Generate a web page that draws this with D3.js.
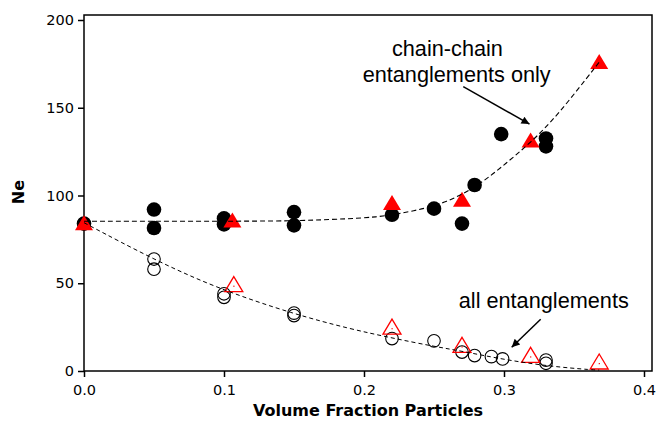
<!DOCTYPE html>
<html>
<head>
<meta charset="utf-8">
<script src="https://cdn.jsdelivr.net/npm/d3@7"></script>
<style>
  body { margin: 0; background: #fff; }
  svg { display: block; }
</style>
</head>
<body>
<div id="chart"></div>
<script>
// chain-chain entanglements only (filled symbols)
const chainCircles = [
  [0, 84], [0.05, 92], [0.05, 81.5], [0.1, 87], [0.1, 83.5], [0.15, 90.5], [0.15, 83],
  [0.22, 89], [0.25, 92.5], [0.27, 84], [0.279, 106], [0.298, 135], [0.33, 132.5], [0.33, 128]
];
const chainTriangles = [
  [0, 84.5], [0.106, 86], [0.22, 96], [0.27, 97.8], [0.319, 131.6], [0.368, 176.3]
];
const chainFit = [
  [0, 85.3], [0.1, 85.3], [0.15, 85.5], [0.176, 86.3], [0.2, 87.2], [0.214, 88.2], [0.235, 91],
  [0.259, 95.8], [0.283, 106.3], [0.302, 118.7], [0.319, 130.1], [0.338, 145.3], [0.368, 176]
];

// all entanglements (open symbols)
const allCircles = [
  [0, 84], [0.05, 63.8], [0.05, 58], [0.1, 44], [0.1, 42], [0.15, 33], [0.15, 31.6],
  [0.22, 18.5], [0.25, 17.2], [0.27, 10.8], [0.279, 8.8], [0.291, 8.2], [0.299, 6.9],
  [0.33, 6.2], [0.33, 4.4]
];
const allTriangles = [
  [0.107, 49.5], [0.22, 25.3], [0.27, 14.9], [0.319, 9.2], [0.368, 5.4]
];
const allFit = [
  [0, 84.5], [0.05, 63.4], [0.096, 46.8], [0.15, 32.4], [0.19, 24], [0.22, 18.8],
  [0.25, 14], [0.27, 11.3], [0.3, 6.5], [0.333, 2.6], [0.364, 0.6], [0.368, 0.5]
];

const xTicks = [0, 0.1, 0.2, 0.3, 0.4];
const yTicks = [0, 50, 100, 150, 200];

const width = 656, height = 422;
const frame = { left: 84, top: 15, right: 652, bottom: 371 };

const svg = d3.select('#chart').append('svg')
  .attr('width', width)
  .attr('height', height);

const x = d3.scaleLinear().domain([0, 0.4]).range([84, 644]);
const y = d3.scaleLinear().domain([0, 200]).range([371, 20]);

const tickFont = "'DejaVu Sans', Verdana, sans-serif";

// frame
svg.append('rect')
  .attr('x', frame.left)
  .attr('y', frame.top)
  .attr('width', frame.right - frame.left)
  .attr('height', frame.bottom - frame.top)
  .attr('fill', 'none')
  .attr('stroke', '#000')
  .attr('stroke-width', 1.5);

const xAxis = svg.append('g')
  .attr('transform', `translate(0,${frame.bottom})`)
  .call(d3.axisBottom(x).tickValues(xTicks).tickFormat(d3.format('.1f')).tickSize(6).tickPadding(8));

const yAxis = svg.append('g')
  .attr('transform', `translate(${frame.left},0)`)
  .call(d3.axisLeft(y).tickValues(yTicks).tickSize(6).tickPadding(4));

[xAxis, yAxis].forEach(a => {
  a.select('.domain').remove();
  a.selectAll('.tick line').attr('stroke', '#000').attr('stroke-width', 1.5);
  a.selectAll('.tick text')
    .attr('fill', '#000')
    .style('font-family', tickFont)
    .style('font-size', '14.5px');
});

svg.append('text')
  .attr('x', (frame.left + frame.right) / 2)
  .attr('y', 416)
  .attr('text-anchor', 'middle')
  .style('font-family', tickFont)
  .style('font-weight', 'bold')
  .style('font-size', '16px')
  .text('Volume Fraction Particles');

svg.append('text')
  .attr('transform', 'translate(24,192) rotate(-90)')
  .attr('text-anchor', 'middle')
  .style('font-family', tickFont)
  .style('font-weight', 'bold')
  .style('font-size', '16px')
  .text('Ne');

const tri = 'M0,-7.5L9,7.5L-9,7.5Z';

// open circles
svg.append('g')
  .selectAll('circle')
  .data(allCircles)
  .join('circle')
  .attr('cx', d => x(d[0]))
  .attr('cy', d => y(d[1]))
  .attr('r', 6.3)
  .attr('fill', 'none')
  .attr('stroke', '#000')
  .attr('stroke-width', 1.1);

// filled circles
svg.append('g')
  .selectAll('circle')
  .data(chainCircles)
  .join('circle')
  .attr('cx', d => x(d[0]))
  .attr('cy', d => y(d[1]))
  .attr('r', 7.3)
  .attr('fill', '#000');

// open triangles
const openTri = svg.append('g')
  .selectAll('g')
  .data(allTriangles)
  .join('g')
  .attr('transform', d => `translate(${x(d[0])},${y(d[1])})`);
openTri.append('path')
  .attr('d', tri)
  .attr('fill', 'none')
  .attr('stroke', '#ff0000')
  .attr('stroke-width', 1.3);
openTri.append('rect')
  .attr('x', -0.5).attr('y', 1.5)
  .attr('width', 1.2).attr('height', 1.2)
  .attr('fill', '#ff0000');

// filled triangles
svg.append('g')
  .selectAll('path')
  .data(chainTriangles)
  .join('path')
  .attr('transform', d => `translate(${x(d[0])},${y(d[1])})`)
  .attr('d', tri)
  .attr('fill', '#ff0000');

// fitted dashed curves
const line = d3.line()
  .x(d => x(d[0]))
  .y(d => y(d[1]))
  .curve(d3.curveBasis);

svg.append('path')
  .datum(chainFit)
  .attr('d', line)
  .attr('fill', 'none')
  .attr('stroke', '#000')
  .attr('stroke-width', 1.1)
  .attr('stroke-dasharray', '5,3');

svg.append('path')
  .datum(allFit)
  .attr('d', line)
  .attr('fill', 'none')
  .attr('stroke', '#000')
  .attr('stroke-width', 1)
  .attr('stroke-dasharray', '4,3');

// annotations
const annoFont = "'Liberation Sans', Arial, sans-serif";
const labels = [
  { t: 'chain-chain', x: 0.2596, y: 179.5 },
  { t: 'entanglements only', x: 0.2662, y: 164.7 },
  { t: 'all entanglements', x: 0.3284, y: 35.7 }
];
svg.append('g')
  .selectAll('text')
  .data(labels)
  .join('text')
  .attr('x', d => x(d.x))
  .attr('y', d => y(d.y))
  .attr('text-anchor', 'middle')
  .style('font-family', annoFont)
  .style('font-size', '21.7px')
  .attr('fill', '#000')
  .text(d => d.t);

svg.append('defs').append('marker')
  .attr('id', 'head')
  .attr('viewBox', '0 0 10 10')
  .attr('refX', 10).attr('refY', 5)
  .attr('markerWidth', 10).attr('markerHeight', 8)
  .attr('markerUnits', 'userSpaceOnUse')
  .attr('orient', 'auto')
  .append('path')
  .attr('d', 'M0,0L10,5L0,10Z')
  .attr('fill', '#000');

const arrows = [
  { x1: 0.2709, y1: 162.0, x2: 0.3182, y2: 140.7 },
  { x1: 0.3262, y1: 29.5, x2: 0.3055, y2: 13.5 }
];
svg.append('g')
  .selectAll('line')
  .data(arrows)
  .join('line')
  .attr('x1', d => x(d.x1))
  .attr('y1', d => y(d.y1))
  .attr('x2', d => x(d.x2))
  .attr('y2', d => y(d.y2))
  .attr('stroke', '#000')
  .attr('stroke-width', 1.5)
  .attr('marker-end', 'url(#head)');
</script>
</body>
</html>
